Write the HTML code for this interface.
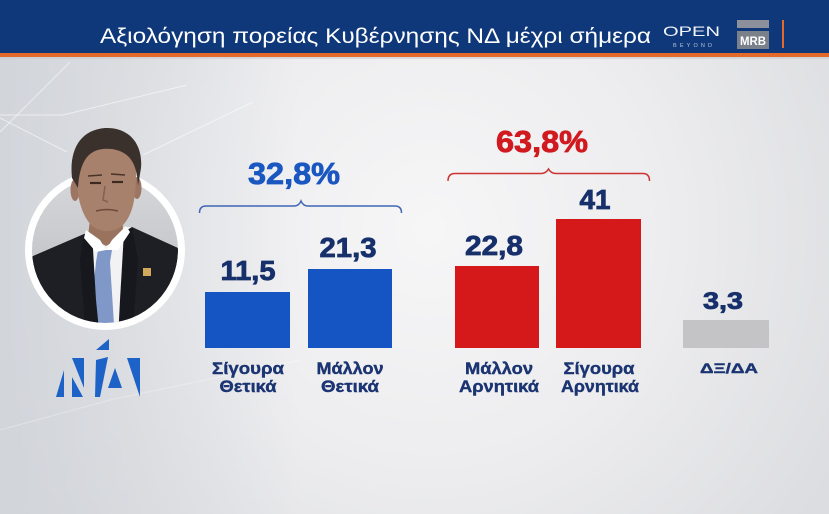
<!DOCTYPE html>
<html><head><meta charset="utf-8">
<style>
html,body{margin:0;padding:0;width:829px;height:514px;overflow:hidden;background:#e6e6e8;}
svg{display:block;}
text{font-family:"Liberation Sans","DejaVu Sans",sans-serif;}
</style></head>
<body>
<svg width="829" height="514" viewBox="0 0 829 514" xmlns="http://www.w3.org/2000/svg">
<defs>
<radialGradient id="bg" cx="430" cy="230" r="470" gradientUnits="userSpaceOnUse">
<stop offset="0" stop-color="#f6f6f7"/>
<stop offset="0.5" stop-color="#ededef"/>
<stop offset="1" stop-color="#dcdde0"/>
</radialGradient>
<linearGradient id="leftshade" x1="0" y1="0" x2="1" y2="0">
<stop offset="0" stop-color="#cfd3d9" stop-opacity="0.8"/>
<stop offset="1" stop-color="#cfd3d9" stop-opacity="0"/>
</linearGradient>
<linearGradient id="inbg" x1="0" y1="0" x2="0" y2="1">
<stop offset="0" stop-color="#d7d8db"/>
<stop offset="1" stop-color="#b9babd"/>
</linearGradient>
<clipPath id="circ"><circle cx="105" cy="250" r="73"/></clipPath>
</defs>

<!-- background -->
<rect x="0" y="0" width="829" height="514" fill="url(#bg)"/>
<rect x="0" y="57" width="300" height="457" fill="url(#leftshade)"/>
<g stroke="#ffffff" stroke-opacity="0.55" stroke-width="1" fill="none">
<path d="M70,62 L0,132"/>
<path d="M0,115 L63,115 L187,85"/>
<path d="M0,118 L67,152"/>
<path d="M143,155 L253,102"/>
</g>
<g stroke="#ffffff" stroke-opacity="0.3" stroke-width="1" fill="none">
<path d="M0,430 L110,400 L300,360"/>
</g>

<!-- header -->
<rect x="0" y="0" width="829" height="54" fill="#0f387b"/>
<rect x="0" y="53" width="829" height="4" fill="#e36a2a"/>
<rect x="0" y="57" width="829" height="2" fill="#c9ccd2" opacity="0.6"/>
<text x="100" y="43" font-size="21" fill="#ffffff" textLength="551" lengthAdjust="spacingAndGlyphs">Αξιολόγηση πορείας Κυβέρνησης ΝΔ μέχρι σήμερα</text>
<text x="663" y="36" font-size="14" fill="#ffffff" textLength="57" lengthAdjust="spacingAndGlyphs" opacity="0.95">OPEN</text>
<text x="673" y="47" font-size="5.5" fill="#b9c3da" textLength="39" lengthAdjust="spacing">BEYOND</text>
<rect x="737" y="20" width="32" height="8" fill="#8b909a"/>
<rect x="737" y="31" width="32" height="18" fill="#7b818b"/>
<text x="753" y="45" font-size="12" font-weight="bold" fill="#ffffff" text-anchor="middle" textLength="26" lengthAdjust="spacingAndGlyphs">MRB</text>
<rect x="782" y="20" width="2" height="28" fill="#e36a2a"/>

<!-- photo -->
<g clip-path="url(#circ)">
<rect x="25" y="170" width="160" height="160" fill="url(#inbg)"/>
<path d="M20,262 L33,256 L84,234 L132,227 L178,248 L190,262 L190,340 L20,340 Z" fill="#1d1f25"/>
<path d="M84,234 L105,228 L132,227 L126,270 L118,340 L96,340 L88,280 Z" fill="#f2f2f4"/>
<path d="M98,250 L112,250 L110,262 L115,340 L88,340 L96,262 Z" fill="#7f98c7"/>
<path d="M84,234 L92,232 L96,300 L100,340 L86,340 L80,260 Z" fill="#16181d"/>
<path d="M132,227 L124,232 L120,300 L118,340 L132,340 L138,260 Z" fill="#16181d"/>
<rect x="143" y="268" width="8" height="8" fill="#d4a85a"/>
</g>
<circle cx="105" cy="250" r="76.5" fill="none" stroke="#ffffff" stroke-width="7"/>
<!-- neck -->
<path d="M91,212 L121,212 L124,236 L106,246 L88,236 Z" fill="#9a735f"/>
<path d="M86,230 L100,240 L106,250 L96,252 L84,238 Z" fill="#ffffff"/>
<path d="M126,226 L112,240 L106,250 L118,250 L130,232 Z" fill="#ffffff"/>
<!-- ears -->
<ellipse cx="75" cy="190" rx="4.5" ry="11" fill="#9c7663"/>
<ellipse cx="137" cy="188" rx="4.5" ry="11" fill="#9c7663"/>
<!-- face -->
<path d="M77,165 C77,148 90,143 107,143 C127,143 136,154 136,172 C136,198 133,214 123,225 C115,233 99,233 91,225 C82,215 77,198 77,180 Z" fill="#a8816d"/>
<path d="M90,183 L101,183" stroke="#3c2a22" stroke-width="2.2"/>
<path d="M112,182 L123,182" stroke="#3c2a22" stroke-width="2.2"/>
<path d="M88,176 L102,175 M111,174 L125,175" stroke="#4a3428" stroke-width="1.6"/>
<path d="M105,186 L103,200 L108,202" stroke="#85604f" stroke-width="1.5" fill="none"/>
<path d="M96,211 Q107,208 118,211" stroke="#6e4a3c" stroke-width="1.6" fill="none"/>
<!-- hair -->
<path d="M72,178 C69,150 80,130 105,128 C130,127 143,145 141,168 L138,186 C137,165 131,152 112,149 C92,147 80,156 78,188 Z" fill="#3a302c"/>

<!-- ND logo -->
<g fill="#1d62c6">
<path d="M56,397 L64,397 L64,370 Z"/>
<path d="M72,358 L84,358 L84,388 Z"/>
<path d="M72,377 L72,397 L83,397 Z"/>
<path d="M96,350 L109,339 L109,350 Z"/>
<path d="M96,360 L108,357 L100,397 L95,397 Z"/>
<path d="M115,368 L122,388 L108,388 Z"/>
<path d="M127,358 L140,358 L140,397 Z"/>
</g>

<!-- braces -->
<path d="M199.5,213 Q199.5,206 206,206 L294,206 Q299,206 301,201 Q303,206 308,206 L395,206 Q401.5,206 401.5,213" fill="none" stroke="#3e66b4" stroke-width="1.5"/>
<path d="M448,181 Q448,173.5 455,173.5 L541,173.5 Q546,173.5 548.5,169 Q551,173.5 556,173.5 L643,173.5 Q649.5,173.5 649.5,181" fill="none" stroke="#cc3333" stroke-width="1.5"/>

<!-- group totals -->
<text x="294" y="184" font-size="31" font-weight="bold" fill="#1b57c0" stroke="#1b57c0" stroke-width="0.8" text-anchor="middle" textLength="92" lengthAdjust="spacingAndGlyphs">32,8%</text>
<text x="542" y="152" font-size="31" font-weight="bold" fill="#d01a20" stroke="#d01a20" stroke-width="0.8" text-anchor="middle" textLength="92" lengthAdjust="spacingAndGlyphs">63,8%</text>

<!-- bars -->
<rect x="205" y="292" width="85" height="56" fill="#1554c3"/>
<rect x="308" y="269" width="84" height="79" fill="#1554c3"/>
<rect x="455" y="266" width="84" height="82" fill="#d5191a"/>
<rect x="556" y="219" width="85" height="129" fill="#d5191a"/>
<rect x="683" y="320" width="86" height="28" fill="#c4c4c6"/>

<!-- values -->
<g font-weight="bold" fill="#17306b" stroke="#17306b" stroke-width="0.8" text-anchor="middle" font-size="28">
<text x="248" y="280" textLength="55" lengthAdjust="spacingAndGlyphs">11,5</text>
<text x="348" y="257" textLength="57" lengthAdjust="spacingAndGlyphs">21,3</text>
<text x="494" y="255" textLength="58" lengthAdjust="spacingAndGlyphs">22,8</text>
<text x="595" y="209" textLength="31" lengthAdjust="spacingAndGlyphs">41</text>
<text x="723" y="309" font-size="24" textLength="40" lengthAdjust="spacingAndGlyphs">3,3</text>
</g>

<!-- category labels -->
<g font-weight="bold" fill="#1b3472" stroke="#1b3472" stroke-width="0.4" text-anchor="middle" font-size="17">
<text x="248" y="374" textLength="72" lengthAdjust="spacingAndGlyphs">Σίγουρα</text>
<text x="248" y="392" textLength="57" lengthAdjust="spacingAndGlyphs">Θετικά</text>
<text x="350" y="374" textLength="67" lengthAdjust="spacingAndGlyphs">Μάλλον</text>
<text x="350" y="392" textLength="58" lengthAdjust="spacingAndGlyphs">Θετικά</text>
<text x="499" y="374" textLength="68" lengthAdjust="spacingAndGlyphs">Μάλλον</text>
<text x="499" y="392" textLength="80" lengthAdjust="spacingAndGlyphs">Αρνητικά</text>
<text x="599" y="374" textLength="71" lengthAdjust="spacingAndGlyphs">Σίγουρα</text>
<text x="600" y="392" textLength="78" lengthAdjust="spacingAndGlyphs">Αρνητικά</text>
<text x="729" y="373" font-size="14" textLength="58" lengthAdjust="spacingAndGlyphs">ΔΞ/ΔΑ</text>
</g>
</svg>
</body></html>
